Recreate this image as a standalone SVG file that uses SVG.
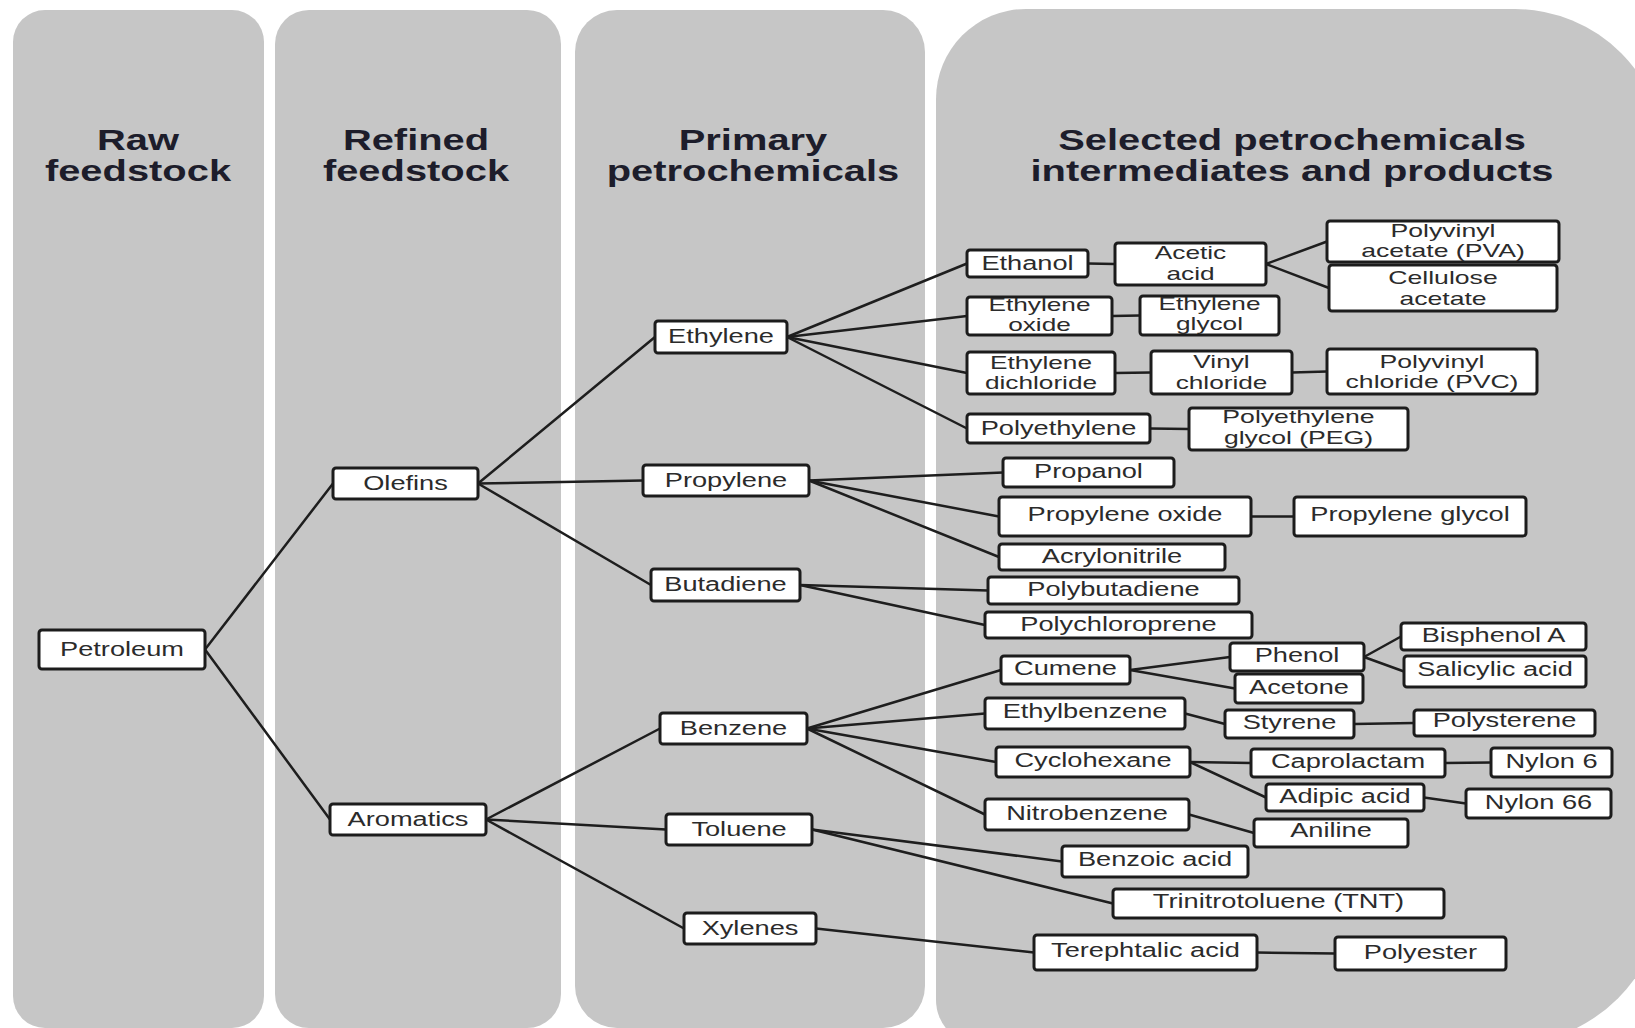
<svg xmlns="http://www.w3.org/2000/svg" width="1635" height="1028" viewBox="0 0 1635 1028">
<style>
.col{fill:#c6c6c6}
.hdr{font-family:"Liberation Sans",Arial,sans-serif;font-weight:bold;font-size:30px;fill:#1d1d2b;text-anchor:middle}
.box{fill:#ffffff;stroke:#1c1c1c;stroke-width:3}
.lbl{font-family:"Liberation Sans",Arial,sans-serif;font-size:20px;fill:#2b2b2b;text-anchor:middle}
.lbl2{font-family:"Liberation Sans",Arial,sans-serif;font-size:19px;fill:#2b2b2b;text-anchor:middle}
.conn line{stroke:#1e1e1e;stroke-width:2.5;stroke-linecap:round}
</style>
<rect width="1635" height="1028" fill="#ffffff"/>
<g id="columns">
<rect class="col" x="13" y="10" width="251" height="1018" rx="32"/>
<rect class="col" x="275" y="10" width="286" height="1018" rx="34"/>
<rect class="col" x="575" y="10" width="350" height="1018" rx="42"/>
<path class="col" d="M1026 9 H1515 A150 150 0 0 1 1665 159 V885 A160 160 0 0 1 1505 1045 H981 A45 45 0 0 1 936 1000 V99 A90 90 0 0 1 1026 9 Z"/>
</g>
<g id="headers">
<text class="hdr" transform="translate(138 0) scale(1.33 1)"><tspan x="0" y="150">Raw</tspan><tspan x="0" y="181">feedstock</tspan></text>
<text class="hdr" transform="translate(416 0) scale(1.33 1)"><tspan x="0" y="150">Refined</tspan><tspan x="0" y="181">feedstock</tspan></text>
<text class="hdr" transform="translate(753 0) scale(1.33 1)"><tspan x="0" y="150">Primary</tspan><tspan x="0" y="181">petrochemicals</tspan></text>
<text class="hdr" transform="translate(1292 0) scale(1.33 1)"><tspan x="0" y="150">Selected petrochemicals</tspan><tspan x="0" y="181">intermediates and products</tspan></text>
</g>
<g id="connectors" class="conn">
<line x1="205" y1="649.5" x2="333" y2="483.5"/>
<line x1="205" y1="649.5" x2="330" y2="819.5"/>
<line x1="478" y1="483.5" x2="655" y2="337"/>
<line x1="478" y1="483.5" x2="643" y2="480.5"/>
<line x1="478" y1="483.5" x2="651" y2="585"/>
<line x1="486" y1="819.5" x2="660" y2="728.5"/>
<line x1="486" y1="819.5" x2="666" y2="829.5"/>
<line x1="486" y1="819.5" x2="684" y2="928.5"/>
<line x1="787" y1="337" x2="967" y2="263.5"/>
<line x1="787" y1="337" x2="967" y2="316"/>
<line x1="787" y1="337" x2="967" y2="373"/>
<line x1="787" y1="337" x2="967" y2="428.5"/>
<line x1="1088" y1="263.5" x2="1115" y2="264"/>
<line x1="1266" y1="264" x2="1327" y2="241.5"/>
<line x1="1266" y1="264" x2="1329" y2="288"/>
<line x1="1112" y1="316" x2="1140" y2="315.5"/>
<line x1="1115" y1="373" x2="1151" y2="372.5"/>
<line x1="1292" y1="372.5" x2="1327" y2="371.5"/>
<line x1="1150" y1="428.5" x2="1189" y2="429"/>
<line x1="809" y1="480.5" x2="1003" y2="472.5"/>
<line x1="809" y1="480.5" x2="999" y2="516.5"/>
<line x1="809" y1="480.5" x2="999" y2="557"/>
<line x1="1251" y1="516.5" x2="1294" y2="516.5"/>
<line x1="800" y1="585" x2="988" y2="590.5"/>
<line x1="800" y1="585" x2="985" y2="625"/>
<line x1="807" y1="728.5" x2="1001" y2="670"/>
<line x1="807" y1="728.5" x2="985" y2="713.5"/>
<line x1="807" y1="728.5" x2="996" y2="762"/>
<line x1="807" y1="728.5" x2="985" y2="814.5"/>
<line x1="1130" y1="670" x2="1230" y2="657"/>
<line x1="1130" y1="670" x2="1235" y2="688.5"/>
<line x1="1364" y1="657" x2="1401" y2="636.5"/>
<line x1="1364" y1="657" x2="1404" y2="671.5"/>
<line x1="1185" y1="713.5" x2="1225" y2="724"/>
<line x1="1354" y1="724" x2="1414" y2="723"/>
<line x1="1190" y1="762" x2="1251" y2="763"/>
<line x1="1190" y1="762" x2="1266" y2="797.5"/>
<line x1="1445" y1="763" x2="1491" y2="762.5"/>
<line x1="1424" y1="797.5" x2="1466" y2="803.5"/>
<line x1="1189" y1="814.5" x2="1254" y2="833"/>
<line x1="812" y1="829.5" x2="1062" y2="861.5"/>
<line x1="812" y1="829.5" x2="1113" y2="903.5"/>
<line x1="816" y1="928.5" x2="1034" y2="952.5"/>
<line x1="1257" y1="952.5" x2="1335" y2="953.5"/>
</g>
<g id="nodes">
<g id="petroleum"><rect class="box" x="39" y="630" width="166" height="39" rx="3"/><text class="lbl" transform="translate(122 649.5) scale(1.36 1)" y="6">Petroleum</text></g>
<g id="olefins"><rect class="box" x="333" y="468" width="145" height="31" rx="3"/><text class="lbl" transform="translate(405.5 483.5) scale(1.36 1)" y="6">Olefins</text></g>
<g id="aromatics"><rect class="box" x="330" y="804" width="156" height="31" rx="3"/><text class="lbl" transform="translate(408 819.5) scale(1.36 1)" y="6">Aromatics</text></g>
<g id="ethylene"><rect class="box" x="655" y="321" width="132" height="32" rx="3"/><text class="lbl" transform="translate(721 337) scale(1.36 1)" y="6">Ethylene</text></g>
<g id="propylene"><rect class="box" x="643" y="465" width="166" height="31" rx="3"/><text class="lbl" transform="translate(726 480.5) scale(1.36 1)" y="6">Propylene</text></g>
<g id="butadiene"><rect class="box" x="651" y="569" width="149" height="32" rx="3"/><text class="lbl" transform="translate(725.5 585) scale(1.36 1)" y="6">Butadiene</text></g>
<g id="benzene"><rect class="box" x="660" y="713" width="147" height="31" rx="3"/><text class="lbl" transform="translate(733.5 728.5) scale(1.36 1)" y="6">Benzene</text></g>
<g id="toluene"><rect class="box" x="666" y="814" width="146" height="31" rx="3"/><text class="lbl" transform="translate(739 829.5) scale(1.36 1)" y="6">Toluene</text></g>
<g id="xylenes"><rect class="box" x="684" y="913" width="132" height="31" rx="3"/><text class="lbl" transform="translate(750 928.5) scale(1.36 1)" y="6">Xylenes</text></g>
<g id="ethanol"><rect class="box" x="967" y="250" width="121" height="27" rx="3"/><text class="lbl" transform="translate(1027.5 263.5) scale(1.36 1)" y="6">Ethanol</text></g>
<g id="acetic-acid"><rect class="box" x="1115" y="243" width="151" height="42" rx="3"/><text class="lbl2" transform="translate(1190.5 264) scale(1.38 1)"><tspan x="0" y="-5">Acetic</tspan><tspan x="0" y="16">acid</tspan></text></g>
<g id="pva"><rect class="box" x="1327" y="221" width="232" height="41" rx="3"/><text class="lbl2" transform="translate(1443 241.5) scale(1.4 1)"><tspan x="0" y="-5">Polyvinyl</tspan><tspan x="0" y="15">acetate (PVA)</tspan></text></g>
<g id="cellulose-acetate"><rect class="box" x="1329" y="265" width="228" height="46" rx="3"/><text class="lbl2" transform="translate(1443 288) scale(1.4 1)"><tspan x="0" y="-4">Cellulose</tspan><tspan x="0" y="17">acetate</tspan></text></g>
<g id="ethylene-oxide"><rect class="box" x="967" y="297" width="145" height="38" rx="3"/><text class="lbl2" transform="translate(1039.5 316) scale(1.38 1)"><tspan x="0" y="-5">Ethylene</tspan><tspan x="0" y="15">oxide</tspan></text></g>
<g id="ethylene-glycol"><rect class="box" x="1140" y="296" width="139" height="39" rx="3"/><text class="lbl2" transform="translate(1209.5 315.5) scale(1.38 1)"><tspan x="0" y="-6">Ethylene</tspan><tspan x="0" y="14">glycol</tspan></text></g>
<g id="ethylene-dichloride"><rect class="box" x="967" y="352" width="148" height="42" rx="3"/><text class="lbl2" transform="translate(1041 373) scale(1.38 1)"><tspan x="0" y="-4">Ethylene</tspan><tspan x="0" y="16">dichloride</tspan></text></g>
<g id="vinyl-chloride"><rect class="box" x="1151" y="351" width="141" height="43" rx="3"/><text class="lbl2" transform="translate(1221.5 372.5) scale(1.38 1)"><tspan x="0" y="-5">Vinyl</tspan><tspan x="0" y="16">chloride</tspan></text></g>
<g id="pvc"><rect class="box" x="1327" y="349" width="210" height="45" rx="3"/><text class="lbl2" transform="translate(1432 371.5) scale(1.4 1)"><tspan x="0" y="-4">Polyvinyl</tspan><tspan x="0" y="16">chloride (PVC)</tspan></text></g>
<g id="polyethylene"><rect class="box" x="967" y="414" width="183" height="29" rx="3"/><text class="lbl" transform="translate(1058.5 428.5) scale(1.36 1)" y="6">Polyethylene</text></g>
<g id="peg"><rect class="box" x="1189" y="408" width="219" height="42" rx="3"/><text class="lbl2" transform="translate(1298.5 429) scale(1.4 1)"><tspan x="0" y="-6">Polyethylene</tspan><tspan x="0" y="15">glycol (PEG)</tspan></text></g>
<g id="propanol"><rect class="box" x="1003" y="458" width="171" height="29" rx="3"/><text class="lbl" transform="translate(1088.5 472.5) scale(1.36 1)" y="5">Propanol</text></g>
<g id="propylene-oxide"><rect class="box" x="999" y="497" width="252" height="39" rx="3"/><text class="lbl" transform="translate(1125 516.5) scale(1.36 1)" y="4">Propylene oxide</text></g>
<g id="propylene-glycol"><rect class="box" x="1294" y="497" width="232" height="39" rx="3"/><text class="lbl" transform="translate(1410 516.5) scale(1.36 1)" y="4">Propylene glycol</text></g>
<g id="acrylonitrile"><rect class="box" x="999" y="544" width="226" height="26" rx="3"/><text class="lbl" transform="translate(1112 557) scale(1.36 1)" y="6">Acrylonitrile</text></g>
<g id="polybutadiene"><rect class="box" x="988" y="577" width="251" height="27" rx="3"/><text class="lbl" transform="translate(1113.5 590.5) scale(1.36 1)" y="5">Polybutadiene</text></g>
<g id="polychloroprene"><rect class="box" x="985" y="612" width="267" height="26" rx="3"/><text class="lbl" transform="translate(1118.5 625) scale(1.36 1)" y="6">Polychloroprene</text></g>
<g id="cumene"><rect class="box" x="1001" y="656" width="129" height="28" rx="3"/><text class="lbl" transform="translate(1065.5 670) scale(1.36 1)" y="5">Cumene</text></g>
<g id="phenol"><rect class="box" x="1230" y="643" width="134" height="28" rx="3"/><text class="lbl" transform="translate(1297 657) scale(1.36 1)" y="5">Phenol</text></g>
<g id="acetone"><rect class="box" x="1235" y="674" width="128" height="29" rx="3"/><text class="lbl" transform="translate(1299 688.5) scale(1.36 1)" y="5">Acetone</text></g>
<g id="bisphenol-a"><rect class="box" x="1401" y="623" width="185" height="27" rx="3"/><text class="lbl" transform="translate(1493.5 636.5) scale(1.36 1)" y="5">Bisphenol A</text></g>
<g id="salicylic-acid"><rect class="box" x="1404" y="656" width="182" height="31" rx="3"/><text class="lbl" transform="translate(1495 671.5) scale(1.36 1)" y="4">Salicylic acid</text></g>
<g id="ethylbenzene"><rect class="box" x="985" y="698" width="200" height="31" rx="3"/><text class="lbl" transform="translate(1085 713.5) scale(1.36 1)" y="4">Ethylbenzene</text></g>
<g id="styrene"><rect class="box" x="1225" y="710" width="129" height="28" rx="3"/><text class="lbl" transform="translate(1289.5 724) scale(1.36 1)" y="5">Styrene</text></g>
<g id="polysterene"><rect class="box" x="1414" y="710" width="181" height="26" rx="3"/><text class="lbl" transform="translate(1504.5 723) scale(1.36 1)" y="4">Polysterene</text></g>
<g id="cyclohexane"><rect class="box" x="996" y="747" width="194" height="30" rx="3"/><text class="lbl" transform="translate(1093 762) scale(1.36 1)" y="5">Cyclohexane</text></g>
<g id="caprolactam"><rect class="box" x="1251" y="749" width="194" height="28" rx="3"/><text class="lbl" transform="translate(1348 763) scale(1.36 1)" y="5">Caprolactam</text></g>
<g id="nylon-6"><rect class="box" x="1491" y="748" width="121" height="29" rx="3"/><text class="lbl" transform="translate(1551.5 762.5) scale(1.36 1)" y="5">Nylon 6</text></g>
<g id="adipic-acid"><rect class="box" x="1266" y="784" width="158" height="27" rx="3"/><text class="lbl" transform="translate(1345 797.5) scale(1.36 1)" y="5">Adipic acid</text></g>
<g id="nylon-66"><rect class="box" x="1466" y="789" width="145" height="29" rx="3"/><text class="lbl" transform="translate(1538.5 803.5) scale(1.36 1)" y="5">Nylon 66</text></g>
<g id="nitrobenzene"><rect class="box" x="985" y="799" width="204" height="31" rx="3"/><text class="lbl" transform="translate(1087 814.5) scale(1.36 1)" y="5">Nitrobenzene</text></g>
<g id="aniline"><rect class="box" x="1254" y="819" width="154" height="28" rx="3"/><text class="lbl" transform="translate(1331 833) scale(1.36 1)" y="4">Aniline</text></g>
<g id="benzoic-acid"><rect class="box" x="1062" y="846" width="186" height="31" rx="3"/><text class="lbl" transform="translate(1155 861.5) scale(1.36 1)" y="4">Benzoic acid</text></g>
<g id="tnt"><rect class="box" x="1113" y="889" width="331" height="29" rx="3"/><text class="lbl" transform="translate(1278.5 903.5) scale(1.36 1)" y="4">Trinitrotoluene (TNT)</text></g>
<g id="terephtalic-acid"><rect class="box" x="1034" y="935" width="223" height="35" rx="3"/><text class="lbl" transform="translate(1145.5 952.5) scale(1.36 1)" y="4">Terephtalic acid</text></g>
<g id="polyester"><rect class="box" x="1335" y="937" width="171" height="33" rx="3"/><text class="lbl" transform="translate(1420.5 953.5) scale(1.36 1)" y="5">Polyester</text></g>
</g>
</svg>
